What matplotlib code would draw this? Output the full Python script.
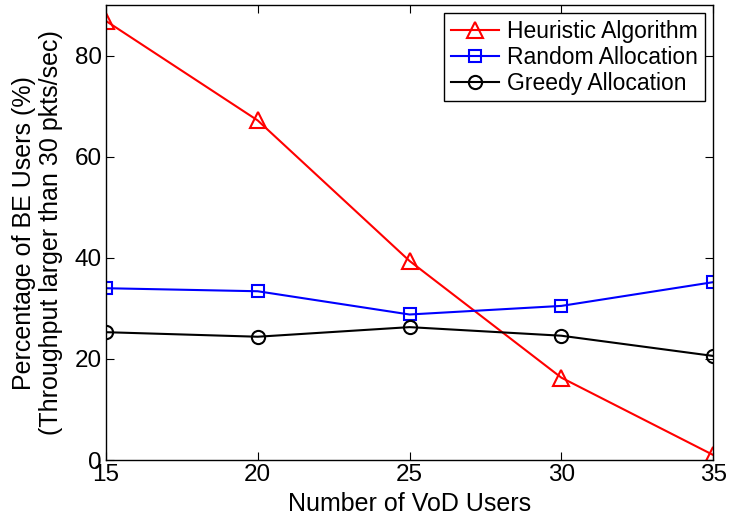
import numpy as np
import matplotlib.pyplot as plt

plt.rcParams['font.family'] = ['Liberation Sans', 'DejaVu Sans']

vod_users = [15, 20, 25, 30, 35]
heuristic = [86.9, 67.2, 39.4, 16.3, 1.0]
random_alloc = [34.0, 33.4, 28.8, 30.5, 35.2]
greedy = [25.3, 24.4, 26.3, 24.6, 20.6]

fig = plt.figure(figsize=(7.3, 5.21), dpi=100)
ax = fig.add_axes([0.145, 0.117, 0.832, 0.873])

ax.plot(vod_users, heuristic, color='red', marker='^', markersize=11,
        markerfacecolor='none', markeredgewidth=1.5, linewidth=1.5,
        label='Heuristic Algorithm')
ax.plot(vod_users, random_alloc, color='blue', marker='s', markersize=8.5,
        markerfacecolor='none', markeredgewidth=1.5, linewidth=1.5,
        label='Random Allocation')
ax.plot(vod_users, greedy, color='black', marker='o', markersize=9.5,
        markerfacecolor='none', markeredgewidth=1.5, linewidth=1.5,
        label='Greedy Allocation')

ax.set_xlim(15, 35)
ax.set_ylim(0, 90)
ax.set_xticks([15, 20, 25, 30, 35])
ax.set_yticks([0, 20, 40, 60, 80])
ax.tick_params(direction='in', top=True, right=True, length=6,
               labelsize=17.5, pad=3)
for s in ax.spines.values():
    s.set_linewidth(1.0)

ax.set_xlabel('Number of VoD Users', fontsize=18, labelpad=4)
ax.set_ylabel('Percentage of BE Users (%)\n(Throughput larger than 30 pkts/sec)',
              fontsize=18, labelpad=8)

leg = ax.legend(loc='upper right', fontsize=16.5, fancybox=False,
                edgecolor='black', framealpha=1, borderaxespad=0.35,
                handlelength=2.1, handletextpad=0.35, borderpad=0.3,
                labelspacing=0.12)
leg.get_frame().set_linewidth(1.0)

plt.savefig('out.png', dpi=100)
